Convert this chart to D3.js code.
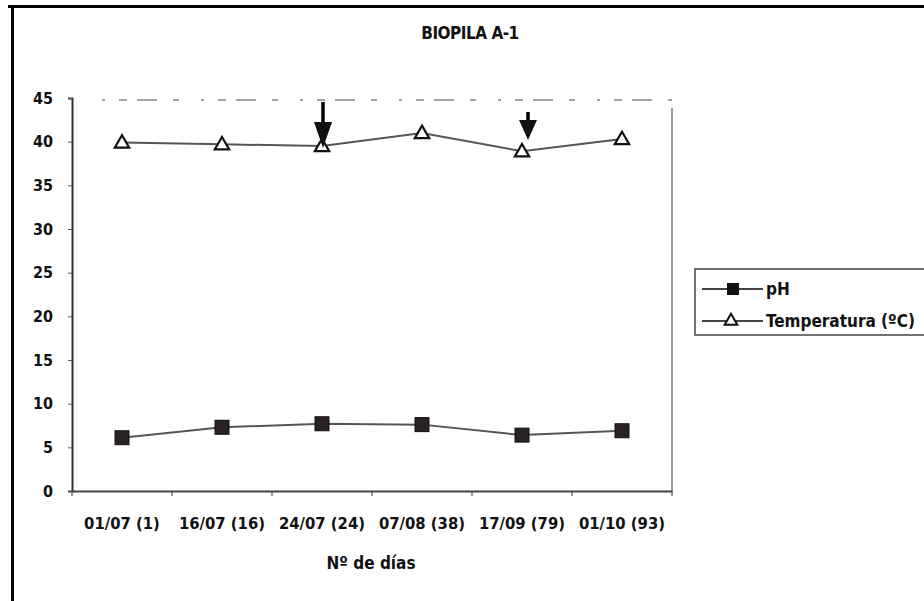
<!DOCTYPE html>
<html><head><meta charset="utf-8">
<script src="https://cdn.jsdelivr.net/npm/d3@7"></script>
<style>
body{margin:0;background:#fff;}
text{font-family:"DejaVu Sans Condensed","Liberation Sans Narrow","Liberation Sans",Arial,sans-serif;font-weight:bold;fill:#111;}
</style></head>
<body><svg id="c" width="924" height="601"></svg>
<script>
const categories = ["01/07 (1)","16/07 (16)","24/07 (24)","07/08 (38)","17/09 (79)","01/10 (93)"];
const phValues = [6.1, 7.3, 7.7, 7.6, 6.4, 6.9];
const tempValues = [39.9, 39.7, 39.5, 41.0, 38.9, 40.3];
const yTicks = [0,5,10,15,20,25,30,35,40,45];
const arrowCats = ["24/07 (24)","17/09 (79)"];
const title = "BIOPILA A-1";
const xTitle = "Nº de días";
const seriesNames = ["pH","Temperatura (ºC)"];

const svg = d3.select("#c");
// frame
svg.append("line").attr("x1",8).attr("x2",924).attr("y1",6.5).attr("y2",6.5).attr("stroke","#000").attr("stroke-width",3);
svg.append("line").attr("x1",12.5).attr("x2",12.5).attr("y1",5).attr("y2",601).attr("stroke","#000").attr("stroke-width",3);

const L=72, R=672, T=98, B=491;
const x = d3.scaleBand().domain(categories).range([L,R]).padding(0);
const y = d3.scaleLinear().domain([0,45]).range([B,T]);

// plot area border (faint, scanned)
svg.append("line").attr("x1",L+30).attr("x2",R).attr("y1",T+2).attr("y2",T+2).attr("stroke","#888").attr("stroke-width",1.5).attr("stroke-dasharray","3 14 8 10 20 16 6 22");
svg.append("line").attr("x1",R).attr("x2",R).attr("y1",T+10).attr("y2",B).attr("stroke","#777").attr("stroke-width",1.5);

// y axis
const ya = svg.append("g").attr("transform",`translate(${L},0)`)
  .call(d3.axisLeft(y).tickValues(yTicks).tickSize(4).tickPadding(15));
ya.select(".domain").attr("stroke","#333").attr("stroke-width",2);
ya.selectAll(".tick line").attr("stroke","#555");
ya.selectAll("text").style("font-size","16px").attr("fill","#111");

// x axis
const xa = svg.append("g").attr("transform",`translate(0,${B})`)
  .call(d3.axisBottom(x).tickSize(0).tickPadding(26));
xa.select(".domain").attr("stroke","#444").attr("stroke-width",2);
xa.selectAll("text").style("font-size","16.5px").attr("fill","#111");
// tick marks at band boundaries
svg.append("g").selectAll("line").data(categories.concat(["_end"])).join("line")
  .attr("x1",(d,i)=>L+i*x.bandwidth()).attr("x2",(d,i)=>L+i*x.bandwidth())
  .attr("y1",B).attr("y2",B+5).attr("stroke","#555").attr("stroke-width",1.2);

const cx = d => x(d)+x.bandwidth()/2;

// lines
const line = d3.line().x(d=>cx(d.c)).y(d=>y(d.v));
const phData = categories.map((c,i)=>({c,v:phValues[i]}));
const tData = categories.map((c,i)=>({c,v:tempValues[i]}));
svg.append("path").datum(phData).attr("d",line).attr("fill","none").attr("stroke","#555").attr("stroke-width",2);
svg.append("path").datum(tData).attr("d",line).attr("fill","none").attr("stroke","#555").attr("stroke-width",2);

// markers
svg.append("g").selectAll("rect").data(phData).join("rect")
  .attr("x",d=>cx(d.c)-7).attr("y",d=>y(d.v)-7).attr("width",14).attr("height",14)
  .attr("fill","#2a2222").attr("stroke","#111").attr("stroke-width",1);
const tri = d3.symbol().type(d3.symbolTriangle).size(90);
svg.append("g").selectAll("path").data(tData).join("path")
  .attr("transform",d=>`translate(${cx(d.c)},${y(d.v)+1})`).attr("d",tri)
  .attr("fill","#fff").attr("stroke","#111").attr("stroke-width",2.2);

// arrows
const arrowTop = [102,112];
const arrowTip = [148,140];
arrowCats.forEach((c,i)=>{
  const ax = cx(c)+1+ (i===1?5:0);
  const head = 26 - i*6;
  const hw = 9;
  svg.append("line").attr("x1",ax).attr("x2",ax).attr("y1",arrowTop[i]).attr("y2",arrowTip[i]-head+2)
    .attr("stroke","#000").attr("stroke-width",3.5);
  svg.append("path").attr("d",`M${ax-hw},${arrowTip[i]-head} L${ax+hw},${arrowTip[i]-head} L${ax},${arrowTip[i]} Z`).attr("fill","#111");
});

// title
svg.append("text").attr("x",470).attr("y",39).attr("text-anchor","middle").style("font-size","17px").style("letter-spacing","-0.5px").text(title);
svg.append("text").attr("x",371).attr("y",569).attr("text-anchor","middle").style("font-size","17px").text(xTitle);

// legend
const lg = svg.append("g");
lg.append("rect").attr("x",695).attr("y",269).attr("width",240).attr("height",66).attr("fill","#fff").attr("stroke","#444").attr("stroke-width",1.5);
const legY=[289,321];
seriesNames.forEach((n,i)=>{
  lg.append("line").attr("x1",702).attr("x2",763).attr("y1",legY[i]).attr("y2",legY[i]).attr("stroke","#444").attr("stroke-width",2);
  if(i===0){
    lg.append("rect").attr("x",727).attr("y",legY[i]-6).attr("width",12).attr("height",12).attr("fill","#111");
  } else {
    lg.append("path").attr("transform",`translate(731,${legY[i]})`).attr("d",d3.symbol().type(d3.symbolTriangle).size(70)).attr("fill","#fff").attr("stroke","#111").attr("stroke-width",2);
  }
  lg.append("text").attr("x",766).attr("y",legY[i]+6).style("font-size","17px").text(n);
});
</script></body></html>
